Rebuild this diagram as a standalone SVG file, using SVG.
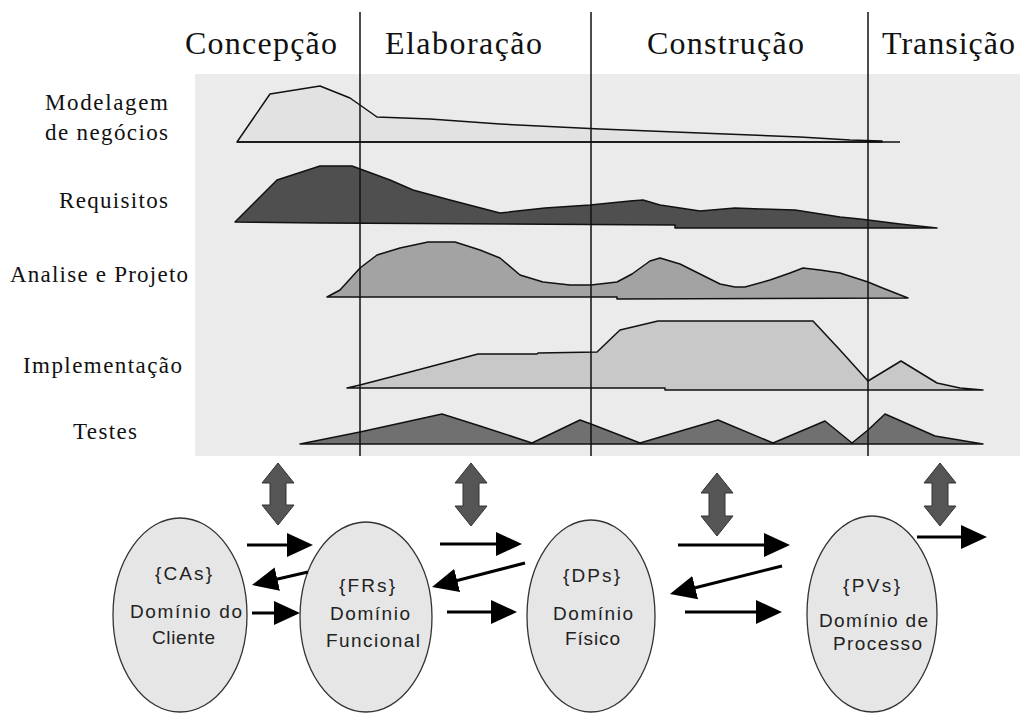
<svg xmlns="http://www.w3.org/2000/svg" width="1020" height="715" viewBox="0 0 1020 715">
<defs>
<style>
.hdr{font-family:"Liberation Serif","Times New Roman",serif;font-size:32px;fill:#111}
.lbl{font-family:"Liberation Serif","Times New Roman",serif;font-size:23px;fill:#111}
.nt{font-family:"Liberation Sans",Arial,sans-serif;font-size:19px;fill:#222}
.hump{stroke:#111;stroke-width:1.5;stroke-linejoin:round}
.base{stroke:#111;stroke-width:1.5;fill:none}
.vl{stroke:#111;stroke-width:1.5}
.ell{fill:#e6e6e6;stroke:#333;stroke-width:1.3}
.dbl{fill:#555;stroke:#333;stroke-width:1}
.con{stroke:#000;stroke-width:3;fill:none}
</style>
<marker id="ah" markerUnits="userSpaceOnUse" viewBox="0 0 26 24" markerWidth="26" markerHeight="24" refX="4" refY="12" orient="auto">
<path d="M0,0 L26,12 L0,24 z" fill="#000"/>
</marker>
</defs>
<rect width="1020" height="715" fill="#fff"/>
<rect id="panel" x="195" y="74" width="825" height="382" fill="#ebebeb"/>

<g id="phase-headers">
<text class="hdr" x="185" y="54" textLength="152" lengthAdjust="spacing">Concepção</text>
<text class="hdr" x="385" y="54" textLength="157" lengthAdjust="spacing">Elaboração</text>
<text class="hdr" x="647" y="54" textLength="157" lengthAdjust="spacing">Construção</text>
<text class="hdr" x="882" y="54" textLength="133" lengthAdjust="spacing">Transição</text>
</g>

<g id="row-labels">
<text class="lbl" x="45" y="110" textLength="123" lengthAdjust="spacing">Modelagem</text>
<text class="lbl" x="45" y="140" textLength="123" lengthAdjust="spacing">de negócios</text>
<text class="lbl" x="59" y="208" textLength="109" lengthAdjust="spacing">Requisitos</text>
<text class="lbl" x="10" y="282" textLength="178" lengthAdjust="spacing">Analise e Projeto</text>
<text class="lbl" x="23" y="373" textLength="159" lengthAdjust="spacing">Implementação</text>
<text class="lbl" x="73" y="439" textLength="64" lengthAdjust="spacing">Testes</text>
</g>

<g id="hump-modelagem">
<polygon class="hump" fill="#e2e2e2" points="237,142 270,94 320,86 350,98 377,117 430,119 500,124 600,129 700,133 800,137 850,140 882,141 882,142"/>
<line class="base" x1="237" y1="142" x2="900" y2="142"/>
</g>
<g id="hump-requisitos">
<polygon class="hump" fill="#4f4f4f" points="235,222 255,202 277,180 320,166 352,166 390,180 413,190 450,200 500,213 545,208 590,205 630,201 643,200 660,205 700,211 735,208 760,209 795,210 840,217 860,219 900,224 937,228 675,228 675,225 320,223"/>
</g>
<g id="hump-analise">
<polygon class="hump" fill="#a3a3a3" points="327,297 340,290 360,268 377,255 400,248 428,242 455,242 480,250 500,258 520,275 543,282 570,285 591,285 617,282 632,274 650,261 660,258 680,264 700,274 720,284 735,287 745,287 770,280 790,273 803,268 820,270 840,273 868,282 880,287 908,298 617,299 617,297"/>
</g>
<g id="hump-implementacao">
<polygon class="hump" fill="#c8c8c8" points="347,388 360,385 410,372 478,354 537,354 538,353 597,352 620,330 658,321 813,321 840,350 868,381 901,361 937,383 960,388 983,390 665,390 665,388"/>
</g>
<g id="hump-testes">
<polygon class="hump" fill="#707070" points="300,444 360,432 442,414 480,426 532,443 580,420 591,424 640,443 718,420 773,443 825,421 852,443 868,430 885,414 935,436 983,444"/>
</g>

<g id="phase-lines">
<line class="vl" x1="360" y1="12" x2="360" y2="456"/>
<line class="vl" x1="591" y1="12" x2="591" y2="456"/>
<line class="vl" x1="868" y1="12" x2="868" y2="456"/>
</g>

<g id="sync-arrows">
<polygon class="dbl" points="278,463 294,483 286,483 286,505 294,505 278,525 262,505 270,505 270,483 262,483"/>
<polygon class="dbl" points="471,463 487,483 479,483 479,506 487,506 471,526 455,506 463,506 463,483 455,483"/>
<polygon class="dbl" points="717,473 733,493 725,493 725,516 733,516 717,536 701,516 709,516 709,493 701,493"/>
<polygon class="dbl" points="940,463 956,483 948,483 948,506 956,506 940,526 924,506 932,506 932,483 924,483"/>
</g>

<g id="node-cas">
<ellipse class="ell" cx="180" cy="615" rx="67" ry="97"/>
<text class="nt" x="155" y="580" textLength="57" lengthAdjust="spacing">{CAs}</text>
<text class="nt" x="130" y="618" textLength="112" lengthAdjust="spacing">Domínio do</text>
<text class="nt" x="152" y="644" textLength="63" lengthAdjust="spacing">Cliente</text>
</g>
<g id="node-frs">
<ellipse class="ell" cx="366" cy="617" rx="66" ry="95"/>
<text class="nt" x="339" y="592" textLength="56" lengthAdjust="spacing">{FRs}</text>
<text class="nt" x="330" y="620" textLength="80" lengthAdjust="spacing">Domínio</text>
<text class="nt" x="326" y="647" textLength="94" lengthAdjust="spacing">Funcional</text>
</g>
<g id="node-dps">
<ellipse class="ell" cx="591" cy="616" rx="64" ry="96"/>
<text class="nt" x="563" y="582" textLength="57" lengthAdjust="spacing">{DPs}</text>
<text class="nt" x="553" y="620" textLength="80" lengthAdjust="spacing">Domínio</text>
<text class="nt" x="565" y="645" textLength="55" lengthAdjust="spacing">Físico</text>
</g>
<g id="node-pvs">
<ellipse class="ell" cx="872" cy="614" rx="65" ry="98"/>
<text class="nt" x="843" y="592" textLength="57" lengthAdjust="spacing">{PVs}</text>
<text class="nt" x="819" y="627" textLength="109" lengthAdjust="spacing">Domínio de</text>
<text class="nt" x="833" y="650" textLength="89" lengthAdjust="spacing">Processo</text>
</g>

<g id="connectors">
<line class="con" x1="247" y1="545" x2="291" y2="545" marker-end="url(#ah)"/>
<line class="con" x1="440" y1="544" x2="500" y2="544" marker-end="url(#ah)"/>
<line class="con" x1="678" y1="545" x2="768" y2="545" marker-end="url(#ah)"/>
<line class="con" x1="917" y1="537" x2="965" y2="537" marker-end="url(#ah)"/>
<line class="con" x1="308" y1="572" x2="273.4" y2="580" marker-end="url(#ah)"/>
<line class="con" x1="525" y1="563" x2="453.3" y2="581.5" marker-end="url(#ah)"/>
<line class="con" x1="782" y1="566" x2="691.3" y2="588.7" marker-end="url(#ah)"/>
<line class="con" x1="252" y1="613" x2="278" y2="613" marker-end="url(#ah)"/>
<line class="con" x1="447" y1="612" x2="495" y2="612" marker-end="url(#ah)"/>
<line class="con" x1="685" y1="612" x2="760" y2="612" marker-end="url(#ah)"/>
</g>
</svg>
